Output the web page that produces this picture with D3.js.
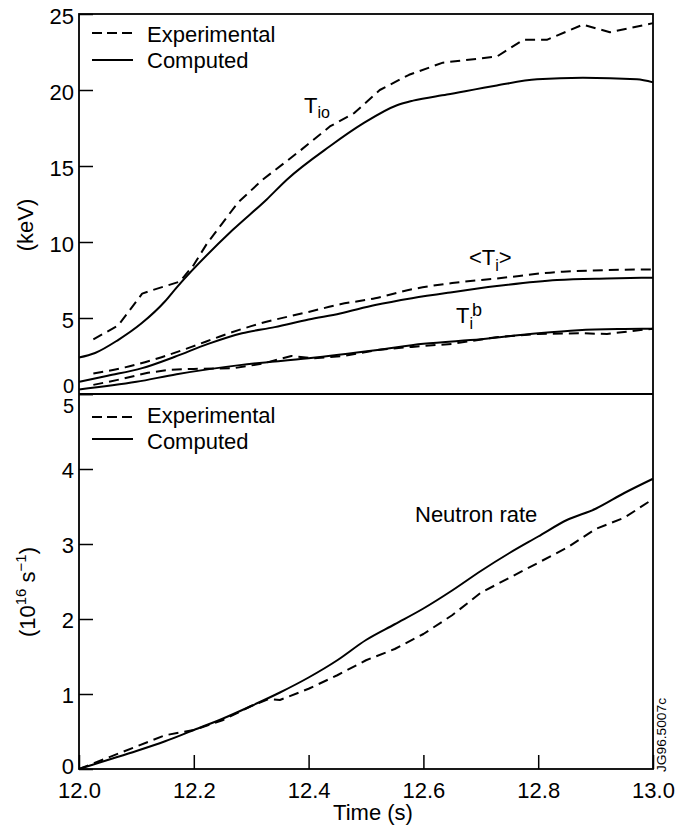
<!DOCTYPE html>
<html>
<head>
<meta charset="utf-8">
<script src="https://cdn.jsdelivr.net/npm/d3@7"></script>
<style>
  html, body { margin: 0; padding: 0; background: #fff; }
  svg text { font-family: "Liberation Sans", Arial, Helvetica, sans-serif; fill: #000; }
</style>
</head>
<body>
<svg id="chart" width="677" height="835"></svg>
<script>
// ---- data ----
const tioExpT   = [12.025, 12.068, 12.11, 12.125, 12.176, 12.2, 12.223, 12.277, 12.32, 12.385, 12.437, 12.48, 12.524, 12.575, 12.634, 12.728, 12.774, 12.815, 12.878, 12.925, 13.0];
const tioExpV   = [3.6, 4.5, 6.6, 6.8, 7.4, 8.5, 9.9, 12.6, 14.1, 16.0, 17.6, 18.5, 20.0, 21.0, 21.8, 22.2, 23.3, 23.3, 24.3, 23.8, 24.4];
const tioCompT  = [12.0, 12.028, 12.068, 12.109, 12.15, 12.17, 12.268, 12.327, 12.362, 12.437, 12.495, 12.554, 12.582, 12.641, 12.728, 12.798, 12.878, 12.972, 13.0];
const tioCompV  = [2.4, 2.7, 3.55, 4.65, 6.1, 7.0, 10.8, 12.8, 14.1, 16.3, 17.8, 19.0, 19.3, 19.7, 20.3, 20.7, 20.8, 20.7, 20.5];
const tiAvgExpT = [12.025, 12.08, 12.138, 12.196, 12.254, 12.312, 12.4, 12.455, 12.516, 12.582, 12.65, 12.728, 12.843, 13.0];
const tiAvgExpV = [1.35, 1.75, 2.35, 3.1, 3.9, 4.6, 5.4, 5.9, 6.3, 6.9, 7.3, 7.6, 8.05, 8.2];
const tiAvgCompT = [12.0, 12.05, 12.11, 12.167, 12.225, 12.284, 12.341, 12.4, 12.455, 12.516, 12.58, 12.65, 12.728, 12.833, 12.92, 13.0];
const tiAvgCompV = [0.8, 1.2, 1.7, 2.45, 3.3, 4.0, 4.4, 4.9, 5.3, 5.85, 6.3, 6.7, 7.1, 7.5, 7.6, 7.65];
const tibExpT   = [12.025, 12.07, 12.12, 12.16, 12.2, 12.27, 12.32, 12.37, 12.41, 12.46, 12.52, 12.58, 12.65, 12.73, 12.8, 12.87, 12.92, 13.0];
const tibExpV   = [0.6, 0.95, 1.4, 1.6, 1.65, 1.7, 2.0, 2.5, 2.35, 2.5, 2.9, 3.1, 3.3, 3.75, 3.95, 4.0, 3.95, 4.3];
const tibCompT  = [12.0, 12.1, 12.17, 12.28, 12.4, 12.52, 12.6, 12.7, 12.8, 12.87, 12.95, 13.0];
const tibCompV  = [0.3, 0.8, 1.3, 1.9, 2.35, 2.9, 3.3, 3.6, 4.0, 4.2, 4.28, 4.3];
const nExpT  = [12.0, 12.05, 12.1, 12.15, 12.2, 12.25, 12.3, 12.33, 12.35, 12.4, 12.45, 12.5, 12.55, 12.6, 12.65, 12.7, 12.75, 12.8, 12.85, 12.9, 12.95, 13.0];
const nExpV  = [0.0, 0.15, 0.3, 0.45, 0.52, 0.65, 0.84, 0.93, 0.92, 1.07, 1.25, 1.45, 1.6, 1.8, 2.05, 2.35, 2.55, 2.75, 2.95, 3.2, 3.35, 3.6];
const nCompT = [12.0, 12.05, 12.1, 12.15, 12.2, 12.25, 12.3, 12.35, 12.4, 12.45, 12.5, 12.55, 12.6, 12.65, 12.7, 12.75, 12.8, 12.85, 12.9, 12.95, 13.0];
const nCompV = [0.0, 0.12, 0.24, 0.37, 0.52, 0.67, 0.84, 1.02, 1.22, 1.45, 1.72, 1.93, 2.14, 2.38, 2.64, 2.88, 3.1, 3.32, 3.47, 3.68, 3.87];

const xTicks = [12.0, 12.2, 12.4, 12.6, 12.8, 13.0];
const yTopTicks = [0, 5, 10, 15, 20, 25];
const yBotTicks = [0, 1, 2, 3, 4, 5];
const legendLabels = ["Experimental", "Computed"];

// ---- layout ----
const svg = d3.select("#chart");
const L = 79, R = 653, T = 14, M = 394, B = 769;
const x = d3.scaleLinear().domain([12, 13]).range([L, R]);
const yTop = d3.scaleLinear().domain([0, 25]).range([M, T]);
const yBot = d3.scaleLinear().domain([0, 5]).range([B, M]);
const FS = 22;

function zip(a, b) { return a.map((t, i) => [t, b[i]]); }

function drawLine(tArr, vArr, ys, dashed, curve) {
  const gen = d3.line().x(d => x(d[0])).y(d => ys(d[1])).curve(curve);
  svg.append("path")
    .attr("d", gen(zip(tArr, vArr)))
    .attr("fill", "none")
    .attr("stroke", "#000")
    .attr("stroke-width", 2)
    .attr("stroke-linejoin", "round")
    .attr("stroke-dasharray", dashed ? "10,6" : null);
}

// curves
drawLine(tioExpT, tioExpV, yTop, true, d3.curveLinear);
drawLine(tioCompT, tioCompV, yTop, false, d3.curveMonotoneX);
drawLine(tiAvgExpT, tiAvgExpV, yTop, true, d3.curveMonotoneX);
drawLine(tiAvgCompT, tiAvgCompV, yTop, false, d3.curveMonotoneX);
drawLine(tibExpT, tibExpV, yTop, true, d3.curveLinear);
drawLine(tibCompT, tibCompV, yTop, false, d3.curveMonotoneX);
drawLine(nExpT, nExpV, yBot, true, d3.curveLinear);
drawLine(nCompT, nCompV, yBot, false, d3.curveMonotoneX);

// axes
function styleAxis(g) {
  g.select(".domain").remove();
  g.selectAll(".tick line").attr("stroke", "#000").attr("stroke-width", 1.5);
  g.selectAll(".tick text").attr("font-size", FS).attr("font-family", "Liberation Sans, Arial, sans-serif").attr("fill", "#000");
}
const gTop = svg.append("g").attr("transform", `translate(${L},0)`)
  .call(d3.axisLeft(yTop).tickValues(yTopTicks).tickSize(-14).tickPadding(5).tickFormat(d3.format("d")));
styleAxis(gTop);
gTop.selectAll(".tick text").attr("dy", "0.42em");
gTop.selectAll(".tick").filter(d => d === 0).select("text").attr("font-size", 20).attr("dy", "-0.1em");
gTop.selectAll(".tick").filter(d => d === 25).select("text").attr("dy", "0.45em");

const gBot = svg.append("g").attr("transform", `translate(${L},0)`)
  .call(d3.axisLeft(yBot).tickValues(yBotTicks).tickSize(-14).tickPadding(5).tickFormat(d3.format("d")));
styleAxis(gBot);
gBot.selectAll(".tick text").attr("dy", "0.38em");
gBot.selectAll(".tick").filter(d => d === 5).select("text").attr("font-size", 20).attr("dy", "0.9em");
gBot.selectAll(".tick").filter(d => d === 0).select("text").attr("dy", "0.2em");

const gX = svg.append("g").attr("transform", `translate(0,${B})`)
  .call(d3.axisBottom(x).tickValues(xTicks).tickSize(-14).tickPadding(13).tickFormat(d3.format(".1f")));
styleAxis(gX);

// frame
svg.append("rect").attr("x", L).attr("y", T).attr("width", R - L).attr("height", B - T)
  .attr("fill", "none").attr("stroke", "#000").attr("stroke-width", 1.8);
svg.append("line").attr("x1", L).attr("x2", R).attr("y1", M).attr("y2", M)
  .attr("stroke", "#000").attr("stroke-width", 1.8);

// legends
function legend(yDash, ySolid, yText1, yText2) {
  svg.append("line").attr("x1", 92).attr("x2", 133).attr("y1", yDash).attr("y2", yDash)
    .attr("stroke", "#000").attr("stroke-width", 2).attr("stroke-dasharray", "10,5");
  svg.append("line").attr("x1", 92).attr("x2", 133).attr("y1", ySolid).attr("y2", ySolid)
    .attr("stroke", "#000").attr("stroke-width", 2);
  svg.append("text").attr("x", 147).attr("y", yText1).attr("font-size", FS).text(legendLabels[0]);
  svg.append("text").attr("x", 147).attr("y", yText2).attr("font-size", FS).text(legendLabels[1]);
}
legend(33, 60, 42, 68);
legend(417, 439, 423, 449);

// curve labels
const tio = svg.append("text").attr("x", 304).attr("y", 113).attr("font-size", FS);
tio.append("tspan").text("T");
tio.append("tspan").attr("font-size", 16).attr("dy", 5).text("io");

const tavg = svg.append("text").attr("x", 469).attr("y", 265).attr("font-size", FS);
tavg.append("tspan").text("<T");
tavg.append("tspan").attr("font-size", 16).attr("dy", 6).text("i");
tavg.append("tspan").attr("dy", -6).text(">");

const tib = svg.append("text").attr("x", 456).attr("y", 323).attr("font-size", FS);
tib.append("tspan").text("T");
tib.append("tspan").attr("font-size", 16).attr("dy", 6).text("i");
tib.append("tspan").attr("font-size", 18).attr("dy", -13).attr("dx", -1).text("b");

svg.append("text").attr("x", 415).attr("y", 522).attr("font-size", FS).text("Neutron rate");

// axis titles
svg.append("text").attr("transform", "translate(33,225) rotate(-90)")
  .attr("text-anchor", "middle").attr("font-size", FS).text("(keV)");

const ny = svg.append("text").attr("transform", "translate(35,592) rotate(-90)")
  .attr("text-anchor", "middle").attr("font-size", FS);
ny.append("tspan").text("(10");
ny.append("tspan").attr("font-size", 15).attr("dy", -9).text("16");
ny.append("tspan").attr("dy", 9).text(" s");
ny.append("tspan").attr("font-size", 15).attr("dy", -9).text("\u22121");
ny.append("tspan").attr("dy", 9).text(")");

svg.append("text").attr("x", 373).attr("y", 820).attr("text-anchor", "middle")
  .attr("font-size", FS).text("Time (s)");

svg.append("text").attr("transform", "translate(666,735) rotate(-90)")
  .attr("text-anchor", "middle").attr("font-size", 12)
  .attr("textLength", 74).attr("lengthAdjust", "spacingAndGlyphs").text("JG96.5007c");
</script>
</body>
</html>
